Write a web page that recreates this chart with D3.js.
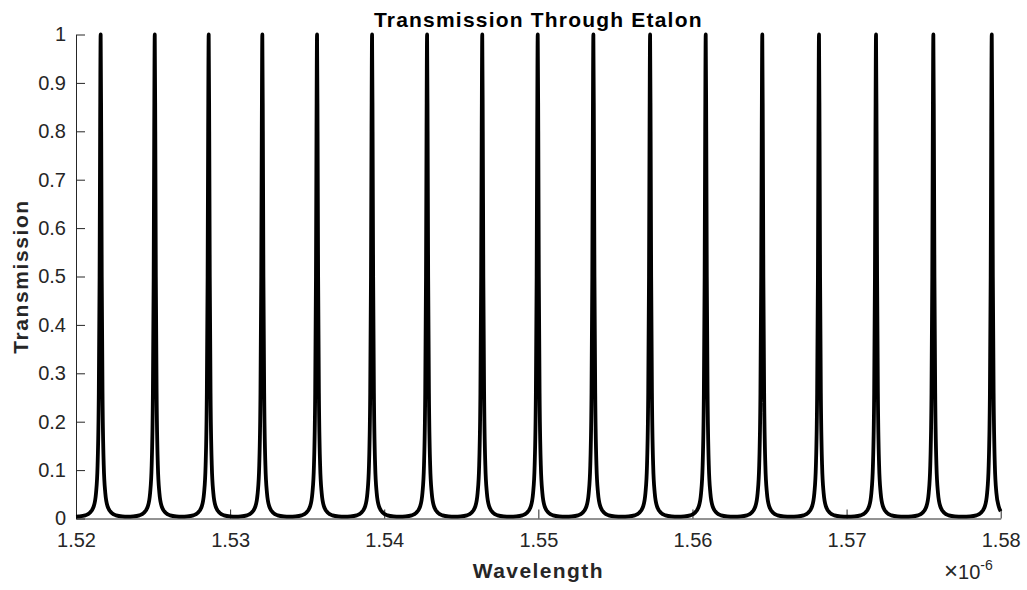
<!DOCTYPE html>
<html>
<head>
<meta charset="utf-8">
<script src="https://cdn.jsdelivr.net/npm/d3@7"></script>
<style>
  body { margin: 0; background: #fff; }
  text { font-family: "Liberation Sans", Arial, sans-serif; }
</style>
</head>
<body>
<div id="chart-area"></div>
<script>
// transmission peak centres (micrometres, axis is x 1e-6 m)
var peakWavelengths = [1.52160, 1.52511, 1.52861, 1.53209, 1.53564, 1.53921, 1.54278,
    1.54636, 1.54996, 1.55357, 1.55725, 1.56086, 1.56453, 1.56821, 1.57191, 1.57563, 1.57942];

// shape of one peak: offset from centre (nm) and transmission
var profileOffsetNm = [0, 0.035, 0.07, 0.12, 0.2, 0.3, 0.45, 0.7, 1.0, 1.4];
var profileT = [1, 0.8, 0.5, 0.26, 0.11, 0.053, 0.025, 0.012, 0.0065, 0.0044];
var baselineT = 0.004;   // between peaks
var endT = 0.015;        // at right edge (1.58)

var xTicks = [1.52, 1.53, 1.54, 1.55, 1.56, 1.57, 1.58];
var yTicks = [0, 0.1, 0.2, 0.3, 0.4, 0.5, 0.6, 0.7, 0.8, 0.9, 1];

var width = 1027, height = 590;
var plotLeft = 76, plotRight = 1000.7, plotTop = 34.5, plotBottom = 518.5;

var svg = d3.select("#chart-area").append("svg")
    .attr("width", width)
    .attr("height", height);

var x = d3.scaleLinear().domain([1.52, 1.58]).range([plotLeft, plotRight]);
var y = d3.scaleLinear().domain([0, 1]).range([plotBottom, plotTop]);

// build points of the curve from the peak list and the profile
var points = [[1.52, baselineT]];
peakWavelengths.forEach(function(c, i) {
    var prev = i > 0 ? peakWavelengths[i - 1] : null;
    var next = i < peakWavelengths.length - 1 ? peakWavelengths[i + 1] : null;
    var leftLim = prev === null ? c - 1.52 : (c - prev) / 2;
    var rightLim = next === null ? 1.58 - c : (next - c) / 2;
    for (var k = profileOffsetNm.length - 1; k > 0; k--) {
        var o = profileOffsetNm[k] / 1000;
        if (o < leftLim) points.push([c - o, profileT[k]]);
    }
    points.push([c, profileT[0]]);
    for (var k = 1; k < profileOffsetNm.length; k++) {
        var o = profileOffsetNm[k] / 1000;
        if (o < rightLim) points.push([c + o, profileT[k]]);
    }
    if (next !== null) points.push([(c + next) / 2, baselineT]);
});
points.push([1.58, endT]);

var axisColor = "#262626";

// axes (box off, ticks pointing inward)
var xAxis = svg.append("g")
    .attr("transform", "translate(0," + plotBottom + ")")
    .call(d3.axisBottom(x).tickValues(xTicks).tickFormat(d3.format(".2f"))
        .tickSizeInner(-9).tickSizeOuter(0).tickPadding(14));

var yAxis = svg.append("g")
    .attr("transform", "translate(" + plotLeft + ",0)")
    .call(d3.axisLeft(y).tickValues(yTicks).tickFormat(d3.format("~g"))
        .tickSizeInner(-9).tickSizeOuter(0).tickPadding(10));

[xAxis, yAxis].forEach(function(g) {
    g.select(".domain").attr("stroke", axisColor).attr("stroke-width", 1);
    g.selectAll(".tick line").attr("stroke", axisColor).attr("stroke-width", 1);
    g.selectAll(".tick text")
        .attr("fill", axisColor)
        .style("font-size", "20px")
        .style("font-family", "'Liberation Sans', Arial, sans-serif");
});

// curve
svg.append("path")
    .datum(points)
    .attr("fill", "none")
    .attr("stroke", "#000")
    .attr("stroke-width", 3.8)
    .attr("stroke-linejoin", "round")
    .attr("d", d3.line()
        .x(function(d) { return x(d[0]); })
        .y(function(d) { return y(d[1]); })
        .curve(d3.curveMonotoneX));

// title and labels
svg.append("text")
    .attr("x", (plotLeft + plotRight) / 2)
    .attr("y", 27)
    .attr("text-anchor", "middle")
    .attr("fill", "#000")
    .style("font-size", "21px")
    .style("font-weight", "bold")
    .style("letter-spacing", "1.2px")
    .text("Transmission Through Etalon");

svg.append("text")
    .attr("x", (plotLeft + plotRight) / 2)
    .attr("y", 578)
    .attr("text-anchor", "middle")
    .attr("fill", axisColor)
    .style("font-size", "21px")
    .style("font-weight", "bold")
    .style("letter-spacing", "1.4px")
    .text("Wavelength");

svg.append("text")
    .attr("transform", "translate(28," + ((plotTop + plotBottom) / 2) + ") rotate(-90)")
    .attr("text-anchor", "middle")
    .attr("fill", axisColor)
    .style("font-size", "21px")
    .style("font-weight", "bold")
    .style("letter-spacing", "1.6px")
    .text("Transmission");

var exp = svg.append("text")
    .attr("x", 944)
    .attr("y", 579)
    .attr("fill", axisColor)
    .style("font-size", "20px");
exp.append("tspan").text("\u00d7").style("font-size", "24px");
exp.append("tspan").text("10");
exp.append("tspan")
    .attr("dy", -9)
    .style("font-size", "14px")
    .text("-6");
</script>
</body>
</html>
